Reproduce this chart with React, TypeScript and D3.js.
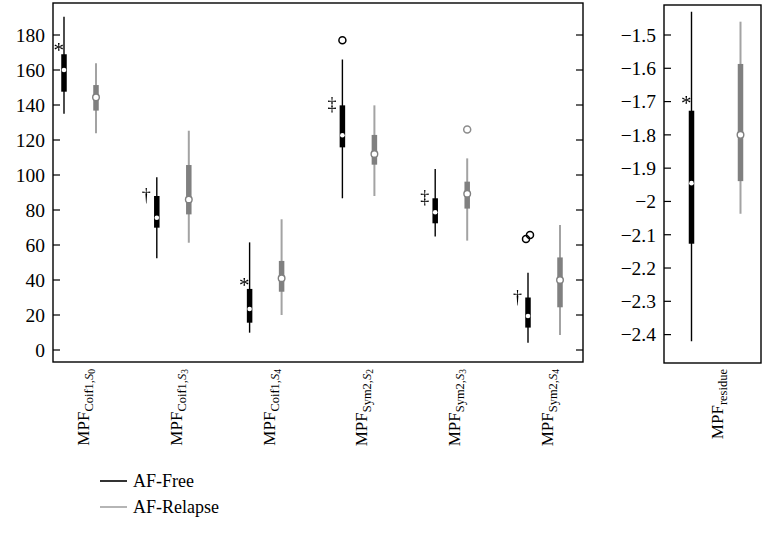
import React from "react";
import * as d3 from "d3";

// ---- data ----
const wavelets = ["Coif1", "Coif1", "Coif1", "Sym2", "Sym2", "Sym2"];
const scalesIdx = ["0", "3", "4", "2", "3", "4"];
// [whiskerLow, q1, median, q3, whiskerHigh]
const freeStats = [
  [135, 147.6, 160, 169, 190.5],
  [52.4, 69.9, 75.6, 88, 98.7],
  [9.9, 15.6, 23.4, 34.9, 61.5],
  [86.7, 115.8, 122.7, 139.8, 166],
  [64.8, 72.4, 78.7, 86.7, 103.4],
  [4.2, 12.8, 19.4, 30, 44.2],
];
const relapseStats = [
  [123.8, 136.8, 144.4, 151.4, 163.8],
  [61.3, 77.5, 86, 105.7, 125.3],
  [20, 33.3, 41, 50.9, 74.7],
  [88, 105.9, 112, 122.9, 139.8],
  [62.5, 80.8, 89.3, 96.2, 109.5],
  [8.6, 24.4, 40, 52.9, 71.4],
];
const freeOutliers = [[], [], [], [177], [], [63.4, 65.7]];
const relapseOutliers = [[], [], [], [], [126], []];
const significance = ["*", "†", "*", "‡", "‡", "†"];
const leftTicks = [0, 20, 40, 60, 80, 100, 120, 140, 160, 180];

const residueFree = [-2.42, -2.127, -1.945, -1.7275, -1.43];
const residueRelapse = [-2.037, -1.939, -1.8, -1.587, -1.46];
const residueMark = "*";
const rightTicks = [-1.5, -1.6, -1.7, -1.8, -1.9, -2, -2.1, -2.2, -2.3, -2.4];

const seriesNames = ["AF-Free", "AF-Relapse"];

// ---- styles ----
const FONT = "'Liberation Serif', 'DejaVu Serif', serif";
const BLACK = "#000";
const GREY_BOX = "#808080";
const GREY_LINE = "#a3a3a3";
const TICK_FS = 19.5;

const L = { x0: 53, x1: 583, y0: 3, y1: 362 };
const R = { x0: 664, x1: 761, y0: 5, y1: 363 };

const yL = d3.scaleLinear().domain([0, 180]).range([350, 35]);
const yR = d3.scaleLinear().domain([-2.4, -1.5]).range([334.6, 35]);
const cats = wavelets.map((w, i) => `${w}-${scalesIdx[i]}`);
const xL = d3.scalePoint<string>().domain(cats).range([80, 544]);
const xR = d3.scalePoint<string>().domain(["residue"]).range([716, 716]);

const fmtR = (v: number) => {
  const s = d3.format(".1f")(v);
  return s.replace("-", "\u2212").replace(/\.0$/, "");
};

function Box({ x, s, y, free, outliers = [] as number[] }: any) {
  const [lo, q1, med, q3, hi] = s;
  const w = 5.5;
  const lineCol = free ? BLACK : GREY_LINE;
  const boxCol = free ? BLACK : GREY_BOX;
  return (
    <g>
      <line x1={x} x2={x} y1={y(lo)} y2={y(hi)} stroke={lineCol} strokeWidth={free ? 1.4 : 2} />
      <rect x={x - w / 2} width={w} y={y(q3)} height={y(q1) - y(q3)} fill={boxCol} />
      {free ? (
        <circle cx={x} cy={y(med)} r={2.3} fill="#fff" />
      ) : (
        <circle cx={x} cy={y(med)} r={3.3} fill="#fff" stroke={GREY_BOX} strokeWidth={1.4} />
      )}
      {outliers.map((o: number, i: number) => (
        <circle
          key={i}
          cx={x + (i - (outliers.length - 1) / 2) * 4}
          cy={y(o)}
          r={3.5}
          fill="none"
          stroke={free ? BLACK : "#8c8c8c"}
          strokeWidth={1.5}
        />
      ))}
    </g>
  );
}

function Mark({ sym, x, top }: { sym: string; x: number; top: number }) {
  const star = sym === "*";
  return (
    <text
      x={star ? x : x - 6}
      y={top + (star ? 3 : 5)}
      textAnchor="end"
      fontSize={star ? 21 : 18}
      fill="#000"
      filter="url(#gray)"
    >
      {sym}
    </text>
  );
}

export default function App() {
  const off = 16;
  const offR = 24.5;
  return (
    <svg
      width={762}
      height={554}
      style={{ position: "absolute", left: 0, top: 0, background: "#fff" }}
      fontFamily={FONT}
      fill="#000"
    >
      <defs>
        <filter id="gray" x="-50%" y="-50%" width="200%" height="200%">
          <feColorMatrix type="saturate" values="0" />
        </filter>
      </defs>
      {/* left panel frame */}
      <rect x={L.x0} y={L.y0} width={L.x1 - L.x0} height={L.y1 - L.y0} fill="none" stroke="#000" strokeWidth={1.4} />
      {leftTicks.map((t) => (
        <g key={t}>
          <line x1={L.x0} x2={L.x0 + 7} y1={yL(t)} y2={yL(t)} stroke="#000" strokeWidth={1.2} />
          <line x1={L.x1} x2={L.x1 - 7} y1={yL(t)} y2={yL(t)} stroke="#000" strokeWidth={1.2} />
          <text x={45} y={yL(t)} dy="0.35em" textAnchor="end" fontSize={TICK_FS} fill="#000">
            {t}
          </text>
        </g>
      ))}
      {cats.map((c, i) => {
        const cx = xL(c)!;
        const bx = cx - off;
        const gx = cx + off;
        const fs = freeStats[i];
        return (
          <g key={c}>
            <Box x={gx} s={relapseStats[i]} y={yL} free={false} outliers={relapseOutliers[i]} />
            <Box x={bx} s={fs} y={yL} free={true} outliers={freeOutliers[i]} />
            <Mark sym={significance[i]} x={bx} top={yL(fs[3])} />
            <text
              transform={`translate(${cx + 9},369) rotate(-90)`}
              textAnchor="end"
              fontSize={17}
              fill="#000"
            >
              MPF
              <tspan fontSize={12.5} dy={4}>
                {wavelets[i]},
              </tspan>
              <tspan fontSize={12.5} fontStyle="italic">S</tspan>
              <tspan fontSize={9.5} dy={2}>{scalesIdx[i]}</tspan>
            </text>
          </g>
        );
      })}

      {/* right panel */}
      <rect x={R.x0} y={R.y0} width={R.x1 - R.x0} height={R.y1 - R.y0} fill="none" stroke="#000" strokeWidth={1.4} />
      {rightTicks.map((t) => (
        <g key={t}>
          <line x1={R.x0} x2={R.x0 + 7} y1={yR(t)} y2={yR(t)} stroke="#000" strokeWidth={1.2} />
          <text x={656} y={yR(t)} dy="0.35em" textAnchor="end" fontSize={TICK_FS} fill="#000">
            {fmtR(t)}
          </text>
        </g>
      ))}
      <Box x={xR("residue")! + offR} s={residueRelapse} y={yR} free={false} />
      <Box x={xR("residue")! - offR} s={residueFree} y={yR} free={true} />
      <Mark sym={residueMark} x={xR("residue")! - offR} top={yR(residueFree[3]) - 4} />
      <text transform={`translate(${xR("residue")! + 7},369) rotate(-90)`} textAnchor="end" fontSize={17} fill="#000">
        MPF
        <tspan fontSize={12.5} dy={4}>residue</tspan>
      </text>

      {/* legend */}
      {seriesNames.map((n, i) => (
        <g key={n} transform={`translate(0,${481 + i * 26})`}>
          <line x1={100} x2={127} y1={0} y2={0} stroke={i === 0 ? BLACK : GREY_LINE} strokeWidth={1.6} />
          <text x={133} y={0} dy="0.35em" fontSize={18} fill="#000">
            {n}
          </text>
        </g>
      ))}
    </svg>
  );
}
